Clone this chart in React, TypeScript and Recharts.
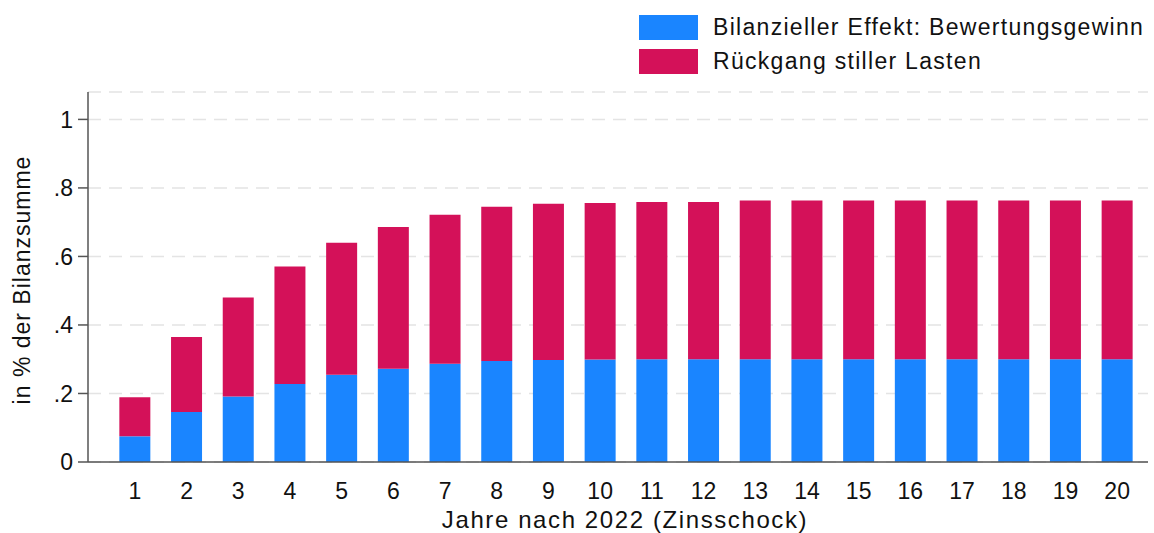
import React from "react";
import {
  BarChart,
  Bar,
  XAxis,
  YAxis,
  CartesianGrid,
  Legend,
} from "recharts";

const years = ["1", "2", "3", "4", "5", "6", "7", "8", "9", "10", "11", "12", "13", "14", "15", "16", "17", "18", "19", "20"];

// Bilanzieller Effekt: Bewertungsgewinn
const bewertungsgewinn = [0.075, 0.146, 0.191, 0.228, 0.255, 0.272, 0.287, 0.295, 0.298, 0.299, 0.3, 0.3, 0.3, 0.3, 0.3, 0.3, 0.3, 0.3, 0.3, 0.3];

// Rückgang stiller Lasten
const stilleLasten = [0.114, 0.219, 0.289, 0.343, 0.385, 0.414, 0.435, 0.45, 0.456, 0.457, 0.459, 0.459, 0.463, 0.463, 0.463, 0.463, 0.463, 0.463, 0.463, 0.463];

const yTicks = [0, 0.2, 0.4, 0.6, 0.8, 1];

const FONT = "'Liberation Sans', Arial, sans-serif";
const TEXT = "#111";
const AXIS = "#555";

const chartData = years.map((year, i) => ({
  year,
  gewinn: bewertungsgewinn[i],
  lasten: stilleLasten[i],
}));

function formatTick(v: number): string {
  if (v === 0) return "0";
  if (v === 1) return "1";
  return v.toFixed(1).replace(/^0/, "");
}

function LegendBox({ payload }: any) {
  return (
    <div style={{ fontFamily: FONT }}>
      {(payload || []).map((entry: any, i: number) => (
        <div
          key={i}
          style={{ display: "flex", alignItems: "center", height: 34 }}
        >
          <div
            style={{
              width: 59,
              height: 25,
              background: entry.color,
              marginRight: 15,
            }}
          />
          <span style={{ fontSize: 23, color: TEXT, letterSpacing: 1.3 }}>
            {entry.value}
          </span>
        </div>
      ))}
    </div>
  );
}

export default function App() {
  return (
    <div style={{ position: "absolute", left: 0, top: 0, background: "#fff" }}>
      <BarChart
        width={1154}
        height={533}
        data={chartData}
        margin={{ top: 92, right: 6, left: 0, bottom: 0 }}
        barCategoryGap="20%"
      >
        <CartesianGrid
          vertical={false}
          stroke="#e4e4e4"
          strokeDasharray="13 8"
          strokeWidth={1.5}
        />
        <XAxis
          dataKey="year"
          height={71}
          padding={{ left: 21, right: 5 }}
          tickLine={false}
          tickMargin={15}
          axisLine={{ stroke: AXIS, strokeWidth: 1.5 }}
          tick={{ fontSize: 23, fill: TEXT, fontFamily: FONT }}
          interval={0}
          label={{
            content: ({ viewBox }: any) => (
              <text
                x={viewBox.x + viewBox.width / 2 + 7}
                y={528}
                textAnchor="middle"
                fontSize={24}
                letterSpacing={1.6}
                fill={TEXT}
                fontFamily={FONT}
              >
                Jahre nach 2022 (Zinsschock)
              </text>
            ),
          }}
        />
        <YAxis
          width={88}
          domain={[0, 1.08]}
          ticks={yTicks}
          tickFormatter={formatTick}
          tickSize={10}
          tickMargin={5}
          tickLine={{ stroke: AXIS, strokeWidth: 1.5 }}
          axisLine={{ stroke: AXIS, strokeWidth: 1.5 }}
          tick={{ fontSize: 23, fill: TEXT, fontFamily: FONT }}
          label={{
            content: () => (
              <text
                x={22}
                y={280}
                transform="rotate(-90, 22, 280)"
                textAnchor="middle"
                dominantBaseline="central"
                fontSize={23}
                letterSpacing={1}
                fill={TEXT}
                fontFamily={FONT}
              >
                in % der Bilanzsumme
              </text>
            ),
          }}
        />
        <Legend
          layout="horizontal"
          verticalAlign="middle"
          align="center"
          wrapperStyle={{ top: 10, left: 639, width: 515 }}
          content={<LegendBox />}
        />
        <Bar
          dataKey="gewinn"
          stackId="a"
          name="Bilanzieller Effekt: Bewertungsgewinn"
          fill="#1a85ff"
          isAnimationActive={false}
        />
        <Bar
          dataKey="lasten"
          stackId="a"
          name="Rückgang stiller Lasten"
          fill="#d41159"
          isAnimationActive={false}
        />
      </BarChart>
    </div>
  );
}
